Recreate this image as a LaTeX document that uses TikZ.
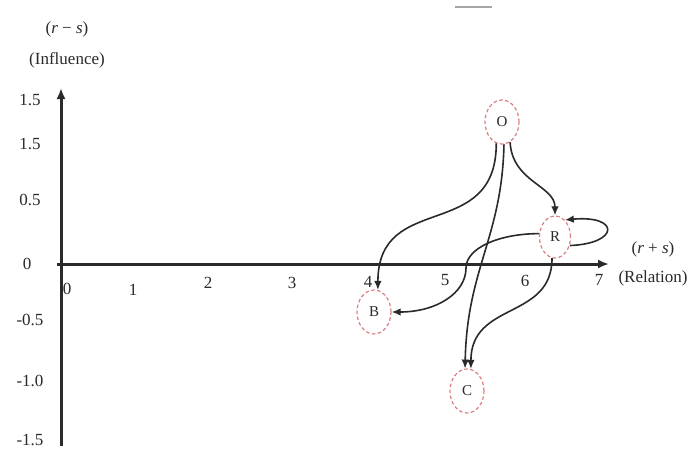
\documentclass[tikz,border=0pt]{standalone}
\usepackage{fontspec}
\setmainfont{Liberation Serif}
\usetikzlibrary{shapes.geometric,arrows.meta}
\definecolor{dashred}{HTML}{DB8082}
\definecolor{ink}{HTML}{2A2A2A}
\begin{document}
\begin{tikzpicture}[x=1pt,y=-1pt,
  lbl/.style={font=\fontsize{17}{20}\selectfont, text=ink, inner sep=0pt},
  factor/.style={ellipse, draw=dashred, dash pattern=on 3.5pt off 2.5pt, line width=1.2pt,
    minimum width=34pt, minimum height=44pt, inner sep=0pt,
    font=\fontsize{15}{17}\selectfont, text=ink},
  axis/.style={line width=3pt, draw=ink, -{Latex[length=11pt,width=9pt]}},
  link/.style={line width=1.6pt, draw=ink, -{Latex[length=9pt,width=7.5pt]}}
]
\useasboundingbox (0,0) rectangle (693,448);
\fill[white] (0,0) rectangle (693,448);

% faint artefact line at the top
\coordinate (ta) at (455,7);
\coordinate (tb) at (492,7);
\draw[line width=2pt, black!35] (ta) -- (tb);

% axes
\coordinate (yb) at (61,446);
\coordinate (yt) at (61,88);
\coordinate (xl) at (57,264);
\coordinate (xr) at (609,264);
\draw[axis] (yb) -- (yt);
\draw[axis] (xl) -- (xr);

% axis titles
\node[lbl] (ytitle) at (67,29) {(\textit{r} − \textit{s})};
\node[lbl] (yname) at (67,60) {(Influence)};
\node[lbl] (xtitle) at (653,249) {(\textit{r} + \textit{s})};
\node[lbl] (xname) at (653,278) {(Relation)};

% y labels
\node[lbl] (y1) at (30,100) {1.5};
\node[lbl] (y2) at (30,144) {1.5};
\node[lbl] (y3) at (30,200) {0.5};
\node[lbl] (y4) at (27,264) {0};
\node[lbl] (y5) at (30,320) {-0.5};
\node[lbl] (y6) at (30,381) {-1.0};
\node[lbl] (y7) at (30,440) {-1.5};

% x labels
\node[lbl] (x0) at (67,289) {0};
\node[lbl] (x1) at (133,290) {1};
\node[lbl] (x2) at (208,283) {2};
\node[lbl] (x3) at (292,283) {3};
\node[lbl] (x4) at (368,282) {4};
\node[lbl] (x5) at (445,280) {5};
\node[lbl] (x6) at (525,281) {6};
\node[lbl] (x7) at (599,280) {7};

% factors
\node[factor] (O) at (502,122) {O};
\node[factor, minimum width=31pt, minimum height=42pt] (R) at (555,237) {R};
\node[factor] (B) at (374,312) {B};
\node[factor] (C) at (467,391) {C};
\coordinate (rb) at (466,268);

% relations
\draw[link] (O.255) .. controls +(0,100) and +(0,-100) .. (B.80);
\draw[link] (O.292) .. controls +(2,40) and +(0,-30) .. (R.north);
\draw[link] (O.275) .. controls +(-2,93) and +(2,-100) .. (C.95);
\draw[link] (R.168) .. controls +(-40,0) and +(0,-20) .. (rb)
                    .. controls +(0,25) and +(45,0) .. (B.east);
\draw[link] (R.262) .. controls +(0,62) and +(0,-68) .. (C.80);
\draw[link] (R.-30) .. controls +(50,-2) and +(55,-5) .. (R.60);
\end{tikzpicture}
\end{document}
